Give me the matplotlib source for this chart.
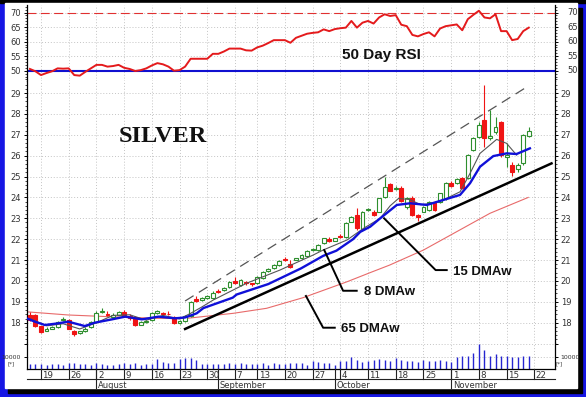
import matplotlib
matplotlib.use('Agg')
import matplotlib.pyplot as plt
import matplotlib.transforms as mtransforms
from matplotlib.patches import Rectangle
from matplotlib.lines import Line2D
from matplotlib.ticker import MultipleLocator

W, H = 586, 397

# silver daily bars, 15 Jul - 19 Nov 2010, x = trading-day index 0..90
opens = [18.38, 18.35, 17.82, 17.62, 17.72, 17.80, 18.12, 18.15, 17.62, 17.50,
         17.60, 17.78, 18.05, 18.50, 18.40, 18.28, 18.38, 18.52, 18.30, 18.28,
         17.90, 18.05, 18.15, 18.48, 18.48, 18.42, 18.28, 18.00, 18.10, 18.32,
         19.12, 19.10, 19.18, 19.18, 19.52, 19.55, 19.70, 20.00, 19.82, 19.95,
         19.88, 19.89, 20.13, 20.50, 20.60, 20.76, 21.05, 20.80, 21.02, 21.08,
         21.19, 21.48, 21.48, 21.80, 22.00, 21.93, 22.15, 22.12, 22.84, 23.16,
         22.48, 23.38, 23.32, 23.32, 24.03, 24.63, 24.40, 24.44, 23.53, 23.96,
         23.15, 23.32, 23.40, 23.80, 23.80, 23.96, 24.71, 24.68, 24.92, 24.92,
         26.27, 26.91, 27.71, 26.85, 27.15, 27.63, 25.95, 25.55, 25.35, 25.63,
         26.94]
highs = [18.50, 18.40, 17.85, 17.78, 17.85, 18.08, 18.25, 18.20, 17.65, 17.62,
         17.78, 18.10, 18.55, 18.72, 18.55, 18.45, 18.58, 18.60, 18.40, 18.30,
         18.10, 18.15, 18.50, 18.62, 18.52, 18.58, 18.32, 18.12, 18.38, 19.05,
         19.30, 19.25, 19.35, 19.50, 19.60, 19.72, 20.02, 20.20, 20.08, 20.02,
         19.92, 20.22, 20.48, 20.62, 20.80, 21.00, 21.15, 20.98, 21.12, 21.28,
         21.48, 21.58, 21.76, 22.08, 22.12, 22.08, 22.25, 22.80, 23.12, 23.50,
         23.35, 23.50, 23.40, 23.98, 25.00, 24.70, 24.55, 24.55, 24.00, 24.05,
         23.20, 23.60, 23.85, 23.85, 24.22, 24.75, 24.80, 24.92, 25.00, 26.10,
         26.90, 27.60, 29.37, 28.19, 27.87, 27.68, 26.60, 25.70, 25.65, 27.05,
         27.35]
lows = [18.10, 17.80, 17.50, 17.58, 17.68, 17.76, 18.08, 17.70, 17.38, 17.45,
        17.55, 17.75, 18.00, 18.45, 18.30, 18.25, 18.35, 18.25, 18.15, 17.85,
        17.88, 18.00, 18.10, 18.42, 18.35, 18.36, 17.92, 17.95, 18.05, 18.28,
        19.00, 19.05, 19.12, 19.15, 19.40, 19.50, 19.65, 19.85, 19.78, 19.82,
        19.78, 19.85, 20.10, 20.45, 20.56, 20.72, 20.95, 20.62, 20.98, 21.05,
        21.15, 21.42, 21.45, 21.76, 21.88, 21.90, 22.05, 22.08, 22.80, 22.45,
        22.40, 23.35, 23.12, 23.28, 23.98, 24.30, 24.35, 23.80, 23.45, 23.10,
        22.88, 23.28, 23.35, 23.35, 23.75, 23.90, 24.50, 24.65, 24.40, 24.88,
        26.20, 26.85, 26.43, 26.75, 27.05, 25.94, 25.47, 25.05, 25.20, 25.55,
        26.90]
closes = [18.15, 17.85, 17.57, 17.72, 17.80, 18.05, 18.20, 17.72, 17.45, 17.58,
          17.72, 18.05, 18.45, 18.55, 18.35, 18.35, 18.50, 18.30, 18.22, 17.90,
          18.05, 18.10, 18.45, 18.55, 18.42, 18.40, 17.98, 18.08, 18.32, 19.00,
          19.05, 19.18, 19.28, 19.44, 19.46, 19.68, 19.96, 19.90, 20.04, 19.88,
          19.84, 20.18, 20.44, 20.56, 20.76, 20.97, 21.00, 20.68, 21.08, 21.24,
          21.45, 21.52, 21.72, 22.04, 21.93, 22.04, 22.10, 22.76, 23.08, 22.52,
          23.28, 23.43, 23.16, 23.96, 24.51, 24.32, 24.45, 23.84, 23.96, 23.16,
          23.08, 23.56, 23.80, 23.40, 24.20, 24.68, 24.55, 24.87, 24.44, 26.03,
          26.83, 27.47, 26.83, 26.95, 27.39, 26.05, 26.05, 25.23, 25.55, 26.99,
          27.18]
volume = [4200, 4300, 4000, 3500, 4000, 3800, 3300, 4600, 4500, 3700,
          4300, 3600, 4800, 4200, 3600, 3500, 3800, 4800, 4300, 4700,
          3500, 3700, 4000, 8300, 5800, 5000, 5200, 8400, 8600, 8500,
          7600, 4200, 4000, 3800, 4400, 3700, 4600, 4000, 4700, 4100,
          4300, 4300, 4500, 3600, 4800, 3900, 4400, 4900, 4500, 4900,
          3600, 6300, 5300, 4900, 4900, 3500, 6300, 6300, 9700, 7600,
          5400, 6300, 7600, 8400, 7000, 6200, 9000, 7600, 6200, 6200,
          5400, 7600, 6700, 6700, 7600, 6700, 5400, 9700, 10300, 10800,
          13000, 19800, 15700, 10300, 12500, 10800, 10800, 9700, 9700, 10300,
          10300]
rsi50 = [50.6, 49.8, 48.5, 49.2, 49.8, 50.8, 50.7, 50.8, 48.5, 48.3,
         49.6, 50.8, 52.0, 52.0, 51.4, 51.6, 52.0, 51.0, 50.6, 49.9,
         50.2, 50.8, 51.8, 52.6, 52.2, 51.4, 50.0, 50.2, 51.4, 54.1,
         54.1, 54.1, 54.1, 55.8, 55.8, 56.6, 57.6, 57.6, 57.6, 57.0,
         56.9, 58.0, 58.6, 59.5, 60.5, 60.5, 60.5, 59.6, 61.3, 62.0,
         62.7, 63.0, 63.2, 64.2, 63.6, 64.3, 64.6, 64.8, 67.1, 64.8,
         66.5, 67.1, 66.2, 68.3, 69.4, 68.8, 69.1, 65.8, 65.3, 62.3,
         61.8, 62.6, 63.2, 61.8, 64.5, 65.3, 65.6, 65.9, 63.9, 67.7,
         69.2, 70.6, 68.3, 68.0, 69.4, 63.6, 63.6, 60.5, 60.9, 63.6,
         64.8]

# weighted moving averages
ma8_x = [0, 3, 6, 9, 12, 15, 18, 21, 24, 27, 29, 31, 33.1, 39.1, 45.1, 51.1,
         52.9, 57.2, 60.2, 63.2, 65, 66.5, 68.5, 70.5, 72.8, 75.2, 77.6, 79.4,
         81.2, 83, 84.2, 86, 87.8]
ma8_y = [18.20, 17.85, 17.95, 17.70, 18.00, 18.35, 18.38, 18.12, 18.35, 18.18,
         18.45, 18.75, 19.09, 19.89, 20.52, 21.24, 21.48, 21.96, 22.52, 23.0,
         23.6, 23.95, 23.9, 23.65, 23.72, 23.96, 24.27, 25.15, 26.11, 26.51,
         26.78, 26.59, 26.03]
ma15_x = [-0.5, 0.9, 2.7, 5.1, 6.9, 9.9, 11.7, 14.8, 17.2, 20.2, 23.2, 26.2, 28,
          30.1, 31.3, 36.6, 37.3, 43, 48.9, 52.9, 55.3, 58.3, 59.6, 61.4, 63.2,
          66.2, 68.6, 71.6, 74.6, 77.6, 79.4, 81.2, 83.6, 86, 87.8, 90.2]
ma15_y = [18.20, 18.05, 17.89, 17.97, 18.05, 17.84, 18.0, 18.16, 18.29, 18.16,
          18.29, 18.21, 18.25, 18.45, 18.7, 19.2, 19.35, 19.85, 20.6, 21.2,
          21.45, 22.0, 22.35, 22.6, 23.0, 23.64, 23.72, 23.64, 23.88, 24.12,
          24.68, 25.47, 25.98, 26.11, 26.08, 26.35]
ma65_x = [-0.5, 6.9, 14.1, 23.2, 28, 36.7, 42.7, 49.3, 57.2, 61.4, 64.9, 71,
          77, 83, 89.9]
ma65_y = [18.52, 18.37, 18.29, 18.21, 18.2, 18.45, 18.69, 19.2, 19.96, 20.4,
          20.76, 21.48, 22.36, 23.24, 24.0]

# trend channel
trend_lo_x = [28, 94.1]
trend_lo_y = [17.70, 25.63]
trend_hi_x = [28, 89.7]
trend_hi_y = [19.04, 29.30]

week_pos = [2, 7, 12, 17, 22, 27, 32, 37, 41, 46, 51, 56, 61, 66, 71, 76, 81, 86, 91]
week_labels = ['19', '26', '2', '9', '16', '23', '30', '7', '13', '20', '27',
               '4', '11', '18', '25', '1', '8', '15', '22']
month_pos = [12, 34, 55, 76]
month_labels = ['August', 'September', 'October', 'November']

rsi_ticks = [50, 55, 60, 65, 70]
price_ticks = list(range(18, 30))

GREEN = '#2e8f2e'
RED = '#f01414'
GRID = '#c4c4c4'
LBL = '#333333'


def box(x0, y0, x1, y1):
    return [x0 / W, 1 - y1 / H, (x1 - x0) / W, (y1 - y0) / H]


fig = plt.figure(figsize=(W / 100, H / 100), dpi=100)
fig.patch.set_facecolor('#1616e4')
fig.add_artist(Rectangle((8 / W, 1 - 393 / H), 574 / W, 385 / H,
                         transform=fig.transFigure, color='black', zorder=-3))
fig.add_artist(Rectangle((0, 1 - 3 / H), 1, 3 / H,
                         transform=fig.transFigure, color='black', zorder=-3))
fig.add_artist(Rectangle((5 / W, 1 - 388 / H), 572 / W, 385 / H,
                         transform=fig.transFigure, color='white', zorder=-2))

ax_rsi = fig.add_axes(box(27, 5, 554.5, 81))
ax_px = fig.add_axes(box(27, 81, 554.5, 343))
ax_vol = fig.add_axes(box(27, 343, 554.5, 369))

for ax in (ax_rsi, ax_px, ax_vol):
    ax.set_xlim(-0.52, 94.64)
    ax.set_xticks(week_pos)
    ax.tick_params(axis='x', length=0, labelbottom=False)
    ax.grid(True, color=GRID, linestyle=(0, (1, 2)), linewidth=0.7)
    ax.set_axisbelow(True)
    for s in ax.spines.values():
        s.set_linewidth(0.9)
    ax.tick_params(axis='y', which='major', direction='out', length=2.5,
                   width=0.7, labelsize=6, labelcolor=LBL, pad=2,
                   left=True, right=True, labelleft=True, labelright=True)
    ax.tick_params(axis='y', which='minor', direction='out', length=1.5,
                   width=0.5, left=True, right=True)

ax_rsi.spines['top'].set_visible(False)
ax_rsi.spines['bottom'].set_visible(False)
ax_px.spines['top'].set_visible(False)
ax_px.spines['bottom'].set_visible(False)
ax_vol.spines['top'].set_visible(False)

# RSI panel
ax_rsi.set_ylim(46.46, 72.58)
ax_rsi.set_yticks(rsi_ticks)
ax_rsi.yaxis.set_minor_locator(MultipleLocator(1))
ax_rsi.tick_params(axis='y', labelright=False)
rtrans = mtransforms.blended_transform_factory(ax_rsi.transAxes, ax_rsi.transData)
for v in rsi_ticks:
    ax_rsi.text(1.025, v, str(v), transform=rtrans, ha='left', va='center',
                fontsize=6, color=LBL)
ax_rsi.axhline(70, color='#e03030', lw=0.8, dashes=(8, 4))
ax_rsi.axhline(50, color='#1010d0', lw=1.5)
ax_rsi.plot(range(len(rsi50)), rsi50, color='#e41a1c', lw=1.4)
ax_rsi.text(56.25, 54.0, '50 Day RSI', fontsize=11, fontweight='bold',
            family='Liberation Sans', color='#111111', ha='left', va='baseline')

# price panel
ax_px.set_ylim(17.028, 29.576)
ax_px.set_yticks(price_ticks)
ax_px.yaxis.set_minor_locator(MultipleLocator(0.2))

ax_px.plot(ma65_x, ma65_y, color='#e86a6a', lw=0.8, zorder=2)
ax_px.plot(trend_lo_x, trend_lo_y, color='black', lw=1.8, zorder=2)
ax_px.plot(trend_hi_x, trend_hi_y, color='#555555', lw=0.9, dashes=(8, 5), zorder=2)

for i in range(len(closes)):
    o, hi, lo, c = opens[i], highs[i], lows[i], closes[i]
    up = c >= o
    col = GREEN if up else RED
    ax_px.vlines(i, lo, hi, color=col, lw=0.8, zorder=3)
    ax_px.add_patch(Rectangle((i - 0.35, min(o, c)), 0.7, max(abs(c - o), 0.03),
                              facecolor='white' if up else col, edgecolor=col,
                              lw=0.8, zorder=4))

ax_px.plot(ma8_x, ma8_y, color='#555555', lw=0.8, zorder=5)
ax_px.plot(ma15_x, ma15_y, color='#1010d8', lw=1.7, zorder=5)

ax_px.text(16.07, 26.65, 'SILVER', fontsize=17.5, fontweight='bold',
           family='Liberation Serif', color='#111111', ha='left', va='baseline')

# moving average call-outs
notes = [
    ('15 DMAw', [63.9, 73.2, 75.2], [23.0, 20.52, 20.52], 76.3, 20.28),
    ('8 DMAw', [53.1, 56.5, 58.96], [21.48, 19.53, 19.53], 60.3, 19.33),
    ('65 DMAw', [49.8, 52.9, 55.0], [19.28, 17.76, 17.76], 56.2, 17.54),
]
for label, lx, ly, tx, ty in notes:
    ax_px.plot(lx, ly, color='black', lw=1.4, zorder=6)
    ax_px.text(tx, ty, label, fontsize=9.5, fontweight='bold',
               family='Liberation Sans', color='#111111', ha='left',
               va='baseline', zorder=6)

# volume panel
ax_vol.set_ylim(0, 21000)
ax_vol.set_yticks([10000, 20000])
ax_vol.set_yticklabels(['10000', ''])
ax_vol.tick_params(axis='y', labelsize=4.5)
ax_vol.vlines(range(len(volume)), 0, volume, color='#2424d0', lw=1.0)
vtrans = mtransforms.blended_transform_factory(fig.transFigure, ax_vol.transData)
for xp in (7 / W, 556 / W):
    ax_vol.text(xp, 4000, '[*]', transform=vtrans, fontsize=4, color=LBL,
                ha='left', va='center', clip_on=False)

# date scale under the chart
btrans = mtransforms.blended_transform_factory(ax_vol.transData, fig.transFigure)
ltrans = mtransforms.offset_copy(btrans, fig=fig, x=1.5, y=0, units='dots')
for p, lab in zip(week_pos, week_labels):
    fig.add_artist(Line2D([p, p], [1 - 369 / H, 1 - 379 / H], transform=btrans,
                          color='#222222', lw=0.8))
    fig.text(p, 1 - 375 / H, lab, transform=ltrans, fontsize=6.3, color=LBL,
             ha='left', va='center')
for p, lab in zip(month_pos, month_labels):
    fig.add_artist(Line2D([p, p], [1 - 369 / H, 1 - 388 / H], transform=btrans,
                          color='#222222', lw=0.8))
    fig.text(p, 1 - 385 / H, lab, transform=ltrans, fontsize=6, color=LBL,
             ha='left', va='center')
fig.add_artist(Line2D([27 / W, 554.5 / W], [1 - 379 / H, 1 - 379 / H],
                      transform=fig.transFigure, color='#222222', lw=0.8))

fig.savefig('out.png', dpi=100, facecolor=fig.get_facecolor())
